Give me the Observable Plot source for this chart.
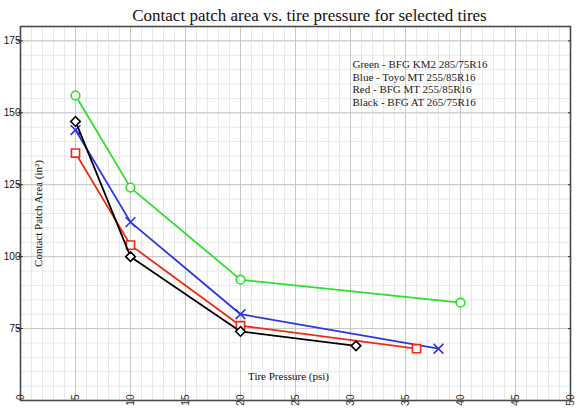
<!DOCTYPE html>
<html>
<head>
<meta charset="utf-8">
<script src="https://cdn.jsdelivr.net/npm/d3@7"></script>
<script src="https://cdn.jsdelivr.net/npm/@observablehq/plot@0.6"></script>
<style>
  html, body { margin: 0; padding: 0; background: white; }
  #chart svg { display: block; }
</style>
</head>
<body>
<div id="chart"></div>
<script>
// ---- data ----
const titleText = "Contact patch area vs. tire pressure for selected tires";
const xLabel = "Tire Pressure (psi)";
const yLabel = "Contact Patch Area (in²)";

const seriesNames = ["Green", "Blue", "Red", "Black"];
const legendLines = [
  "Green - BFG KM2 285/75R16",
  "Blue - Toyo MT 255/85R16",
  "Red - BFG MT 255/85R16",
  "Black - BFG AT 265/75R16"
];

const greenPsi = [5, 10, 20, 40];
const greenArea = [156, 124, 92, 84];
const bluePsi = [5, 10, 20, 38];
const blueArea = [144, 112, 80, 68];
const redPsi = [5, 10, 20, 36];
const redArea = [136, 104, 76, 68];
const blackPsi = [5, 10, 20, 30.5];
const blackArea = [147, 100, 74, 69];

const xTicks = [0, 5, 10, 15, 20, 25, 30, 35, 40, 45, 50];
const yTicks = [75, 100, 125, 150, 175];
const xMinor = d3.range(0, 51, 1);
const yMinor = d3.range(50, 181, 5);

// ---- styles ----
const styles = {
  Green: { color: "#2ee02e", symbol: "circle", r: 4.3 },
  Blue: { color: "#2a36e6", symbol: "times", r: 4.5 },
  Red: { color: "#f02a14", symbol: "square", r: 4.6 },
  Black: { color: "#000000", symbol: "diamond2", r: 4.3 }
};

const pairs = { Green: [greenPsi, greenArea], Blue: [bluePsi, blueArea], Red: [redPsi, redArea], Black: [blackPsi, blackArea] };
const table = seriesNames.flatMap(s => pairs[s][0].map((x, i) => ({ series: s, x, y: pairs[s][1][i] })));

const serif = "'Liberation Serif', 'DejaVu Serif', serif";
const sans = "'Liberation Sans', Arial, sans-serif";

const seriesMarks = seriesNames.flatMap(s => {
  const d = table.filter(t => t.series === s);
  const st = styles[s];
  return [
    Plot.line(d, { x: "x", y: "y", stroke: st.color, strokeWidth: 1.8 }),
    Plot.dot(d, { x: "x", y: "y", symbol: () => st.symbol, r: st.r, stroke: st.color, strokeWidth: 1.6, fill: "white" })
  ];
});

const chart = Plot.plot({
  width: 584,
  height: 412,
  marginTop: 26,
  marginLeft: 20,
  marginRight: 14,
  marginBottom: 12,
  style: { background: "white", fontFamily: sans, fontSize: "10px", color: "#222" },
  x: { domain: [0, 50], label: null },
  y: { domain: [50, 180], label: null },
  marks: [
    Plot.ruleX(xMinor, { stroke: "#e8e8e8", strokeWidth: 1 }),
    Plot.ruleY(yMinor, { stroke: "#e8e8e8", strokeWidth: 1 }),
    Plot.ruleX(xTicks, { stroke: "#c6c6c6", strokeWidth: 1 }),
    Plot.ruleY(yTicks, { stroke: "#c6c6c6", strokeWidth: 1 }),
    Plot.frame({ stroke: "#4a4a4a", strokeWidth: 1.6 }),
    ...seriesMarks,
    Plot.axisY({ ticks: yTicks, anchor: "left", tickSize: 6, dx: 3, tickPadding: -3, fontSize: 10, fill: "#111", stroke: "#333", label: null }),
    Plot.axisY({ ticks: yTicks, anchor: "right", tickSize: 3, dx: -3, tickFormat: () => "", stroke: "#333", label: null }),
    Plot.axisX({ ticks: xTicks, anchor: "bottom", tickSize: 0, tickRotate: -90, tickPadding: -6, fontSize: 10, fill: "#333", label: null }),
    Plot.text([titleText], { frameAnchor: "top", dy: -18, dx: 14, fontFamily: serif, fontSize: 17, fill: "#111" }),
    Plot.text([xLabel], { frameAnchor: "bottom", dy: -21, dx: -7, fontFamily: serif, fontSize: 11, fill: "#111" }),
    Plot.text([yLabel], { frameAnchor: "left", dx: 18, rotate: -90, textAnchor: "middle", fontFamily: serif, fontSize: 11, fill: "#111" }),
    Plot.text([legendLines.join("\n")], { frameAnchor: "top-left", dx: 332, dy: 33, textAnchor: "start", lineAnchor: "top", lineHeight: 1.14, fontFamily: serif, fontSize: 11, fill: "#222" })
  ]
});

document.getElementById("chart").appendChild(chart);
</script>
</body>
</html>
